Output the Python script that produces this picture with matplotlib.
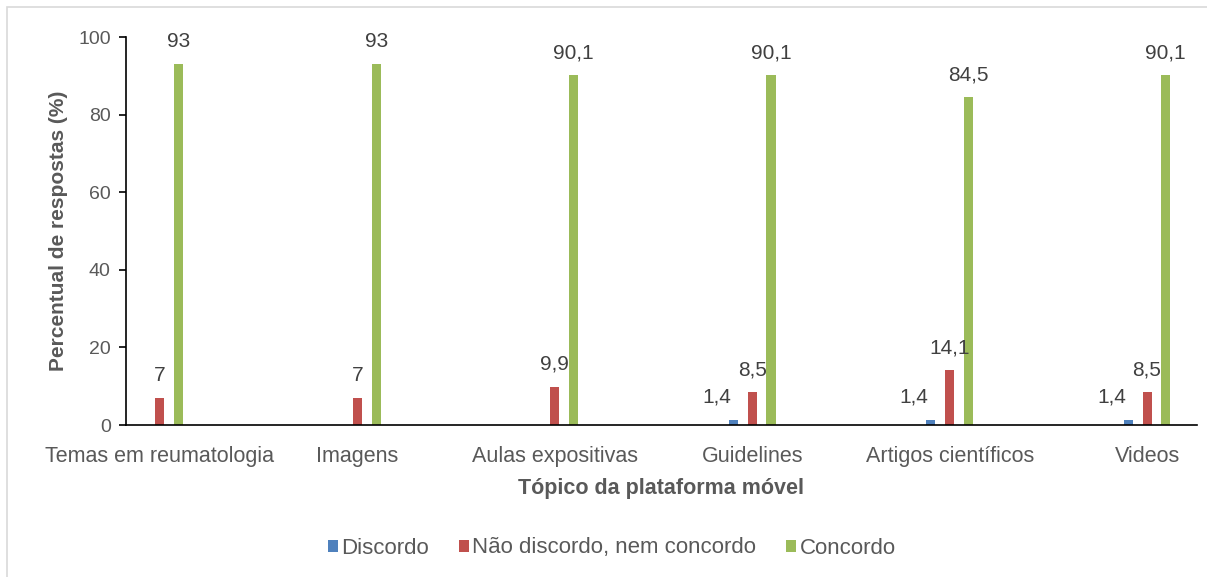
import matplotlib
matplotlib.use("Agg")
import matplotlib.pyplot as plt
from matplotlib.patches import Rectangle
import numpy as np

categories = ["Temas em reumatologia", "Imagens", "Aulas expositivas",
              "Guidelines", "Artigos científicos", "Videos"]
series_names = ["Discordo", "Não discordo, nem concordo", "Concordo"]
discordo = [0, 0, 0, 1.4, 1.4, 1.4]
nao_discordo = [7, 7, 9.9, 8.5, 14.1, 8.5]
concordo = [93, 93, 90.1, 90.1, 84.5, 90.1]
colors = ["#4F81BD", "#C0504D", "#9BBB59"]
yticks = [0, 20, 40, 60, 80, 100]

plt.rcParams["font.family"] = ["Liberation Sans", "DejaVu Sans"]
text_color = "#595959"

fig = plt.figure(figsize=(12.07, 5.77), dpi=100)
ax = fig.add_axes([126 / 1207, 1 - 425 / 577, (1197 - 126) / 1207, (425 - 37) / 577])

# light chart-area frame
fig.patches.append(Rectangle((7 / 1207, -0.1), 1.1, (577 - 7) / 577 + 0.1,
                             transform=fig.transFigure, fill=False,
                             edgecolor="#D9D9D9", linewidth=1.2))

x = np.arange(len(categories))
width = 0.046
offset = 0.095
for i, (vals, name, c) in enumerate(zip([discordo, nao_discordo, concordo],
                                        series_names, colors)):
    pos = x + (i - 1) * offset
    ax.bar(pos, vals, width=width, color=c, label=name)
    for xp, v in zip(pos, vals):
        if v > 0:
            ax.text(xp - (0.085 if i == 0 else 0), v + 3.3,
                    f"{v:g}".replace(".", ","), ha="center", va="bottom",
                    fontsize=15, color="#404040")

ax.set_ylim(0, 100)
ax.set_xlim(-0.172, 5.253)
ax.set_yticks(yticks)
ax.set_xticks(x)
ax.set_xticklabels(categories)
ax.tick_params(axis="y", direction="out", length=5, width=1.2, colors="black",
               labelcolor=text_color, labelsize=14, pad=6)
ax.tick_params(axis="x", length=0, labelcolor=text_color, labelsize=15.5, pad=15)
for s in ["top", "right"]:
    ax.spines[s].set_visible(False)
ax.spines["left"].set_linewidth(1.2)
ax.spines["bottom"].set_linewidth(1.2)

ax.set_ylabel("Percentual de respostas (%)", fontsize=15, fontweight="bold",
              color=text_color, labelpad=7)
ax.set_xlabel("Tópico da plataforma móvel", fontsize=15.5, fontweight="bold",
              color=text_color, labelpad=8)

leg = fig.legend(loc="center", bbox_to_anchor=(612 / 1207, 1 - 548 / 577),
                 ncol=3, frameon=False, fontsize=16, handlelength=0.45,
                 handleheight=0.45, handletextpad=0.15, columnspacing=1.35)
for t in leg.get_texts():
    t.set_color(text_color)

fig.savefig("out.png", dpi=100)
